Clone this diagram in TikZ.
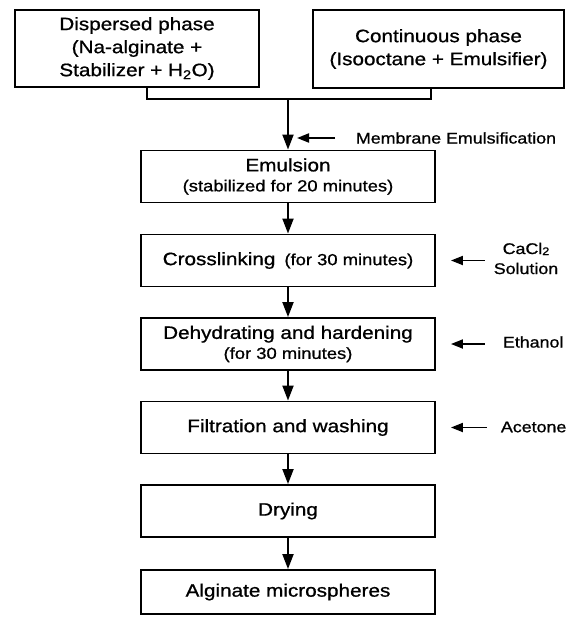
\documentclass[tikz,border=0pt]{standalone}
\usepackage{fontspec}
\setmainfont{Liberation Sans}[FakeStretch=1.15, FakeBold=0.9]
\usetikzlibrary{arrows.meta}
\newcommand{\boxfont}{\fontsize{18}{23}\selectfont}
\newcommand{\subfont}{\fontsize{16}{20}\selectfont}
\newcommand{\sidefont}{\fontsize{15.5}{20}\selectfont}
\tikzset{every path/.style={line width=1.9pt}}
\tikzset{
  stage/.style={draw, minimum width=294pt, minimum height=52pt, inner sep=0pt, align=center, font=\boxfont},
  flow/.style={-{Triangle[length=15pt,width=11pt]}},
  feed/.style={-{Triangle[length=12pt,width=9pt]}},
  sidetext/.style={font=\sidefont, inner sep=0pt, align=center}
}

\begin{document}
\begin{tikzpicture}[x=1pt,y=-1pt]
  \useasboundingbox (0,0) rectangle (574,619);

  % Phases
  \node[stage, minimum width=244pt, minimum height=77pt] (disp) at (137,48.5)
    {Dispersed phase\\(Na-alginate +\\Stabilizer + H\textsubscript{2}O)};
  \node[stage, minimum width=251pt, minimum height=78pt] (cont) at (438.5,49)
    {Continuous phase\\(Isooctane + Emulsifier)};
  \coordinate (join) at (288,99);
  \draw ([xshift=10pt]disp.south) |- (join) -| ([xshift=-7.5pt]cont.south);

  % Process steps
  \node[stage] (emul)  at (288,176.5) {Emulsion\\[-3pt]{\subfont(stabilized for 20 minutes)}};
  \node[stage] (cross) at (288,260.5) {Crosslinking\enspace{\subfont(for 30 minutes)}};
  \node[stage] (dehyd) at (288,344)   {Dehydrating and hardening\\[-3pt]{\subfont(for 30 minutes)}};
  \node[stage] (filt)  at (288,427.5) {Filtration and washing};
  \node[stage] (dry)   at (288,511)   {Drying};
  \node[stage, minimum height=44pt] (alg) at (288,592) {Alginate microspheres};

  \draw[flow] (join) -- (emul);
  \draw[flow] (emul) -- (cross);
  \draw[flow] (cross) -- (dehyd);
  \draw[flow] (dehyd) -- (filt);
  \draw[flow] (filt) -- (dry);
  \draw[flow] (dry) -- (alg);

  % Additions
  \node[sidetext, anchor=west] (memb) at (355,138) {Membrane Emulsification};
  \draw[feed] ([xshift=-20pt]memb.west) -- ([xshift=9pt]join |- memb.west);

  \node[sidetext] (cacl) at (526,258.5) {CaCl{\fontsize{11}{11}\selectfont\raisebox{-1pt}{2}}\\Solution};
  \draw[feed] ([xshift=49pt]cross.east) -- ([xshift=15pt]cross.east);

  \node[sidetext, anchor=west] (etoh) at (502,342) {Ethanol};
  \draw[feed] ([xshift=49pt]dehyd.east) -- ([xshift=15pt]dehyd.east);

  \node[sidetext, anchor=west] (acet) at (500,427) {Acetone};
  \draw[feed] ([xshift=51pt]filt.east) -- ([xshift=15pt]filt.east);
\end{tikzpicture}
\end{document}
